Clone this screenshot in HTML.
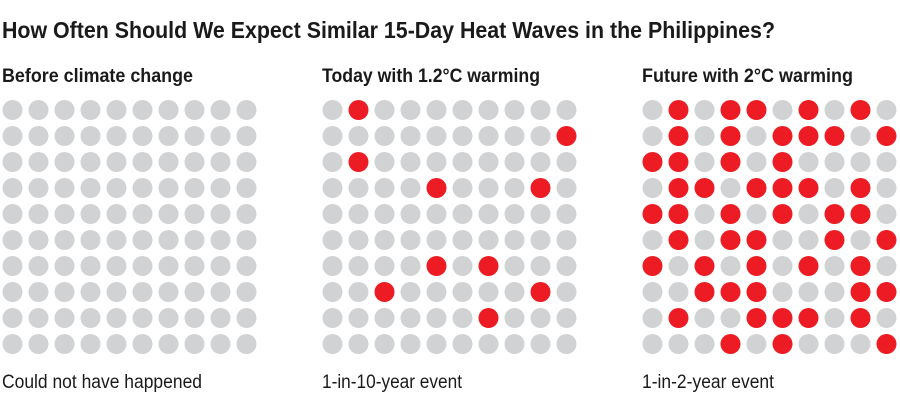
<!DOCTYPE html>
<html><head><meta charset="utf-8"><style>
html,body{margin:0;padding:0;background:#fff;}
svg{display:block;}
text{font-family:"Liberation Sans Narrow","Liberation Sans",sans-serif;fill:#1a1a1a;}
</style></head><body>
<svg width="900" height="412" viewBox="0 0 900 412" xmlns="http://www.w3.org/2000/svg">
<text x="2" y="38" font-size="23" font-weight="bold" textLength="773" lengthAdjust="spacingAndGlyphs">How Often Should We Expect Similar 15-Day Heat Waves in the Philippines?</text>
<text x="2" y="82" font-size="19" font-weight="bold" textLength="191" lengthAdjust="spacingAndGlyphs">Before climate change</text>
<text x="322" y="82" font-size="19" font-weight="bold" textLength="218" lengthAdjust="spacingAndGlyphs">Today with 1.2°C warming</text>
<text x="642" y="82" font-size="19" font-weight="bold" textLength="211" lengthAdjust="spacingAndGlyphs">Future with 2°C warming</text>
<text x="2" y="388" font-size="19" textLength="200" lengthAdjust="spacingAndGlyphs">Could not have happened</text>
<text x="322" y="388" font-size="19" textLength="140" lengthAdjust="spacingAndGlyphs">1-in-10-year event</text>
<text x="642" y="388" font-size="19" textLength="132" lengthAdjust="spacingAndGlyphs">1-in-2-year event</text>
<g id="dots"></g>
</svg>
<script>
var g=document.getElementById('dots');
var p2=["0100000000","0000000001","0100000000","0000100010","0000000000","0000000000","0000101000","0010000010","0000001000","0000000000"];
var p3=["0101101010","0101011101","1101010000","0110111010","1101010110","0101100101","1010101010","0011100011","0100111010","0001010001"];
var pats=[null,p2,p3];
for(var k=0;k<3;k++){for(var r=0;r<10;r++){for(var c=0;c<10;c++){
var red=pats[k]&&pats[k][r][c]=='1';
var e=document.createElementNS('http://www.w3.org/2000/svg','circle');
e.setAttribute('cx',12.5+320*k+26*c);e.setAttribute('cy',110+26*r);e.setAttribute('r',10);
e.setAttribute('fill',red?'#ed1c24':'#d1d2d4');g.appendChild(e);}}}
</script>
</body></html>
